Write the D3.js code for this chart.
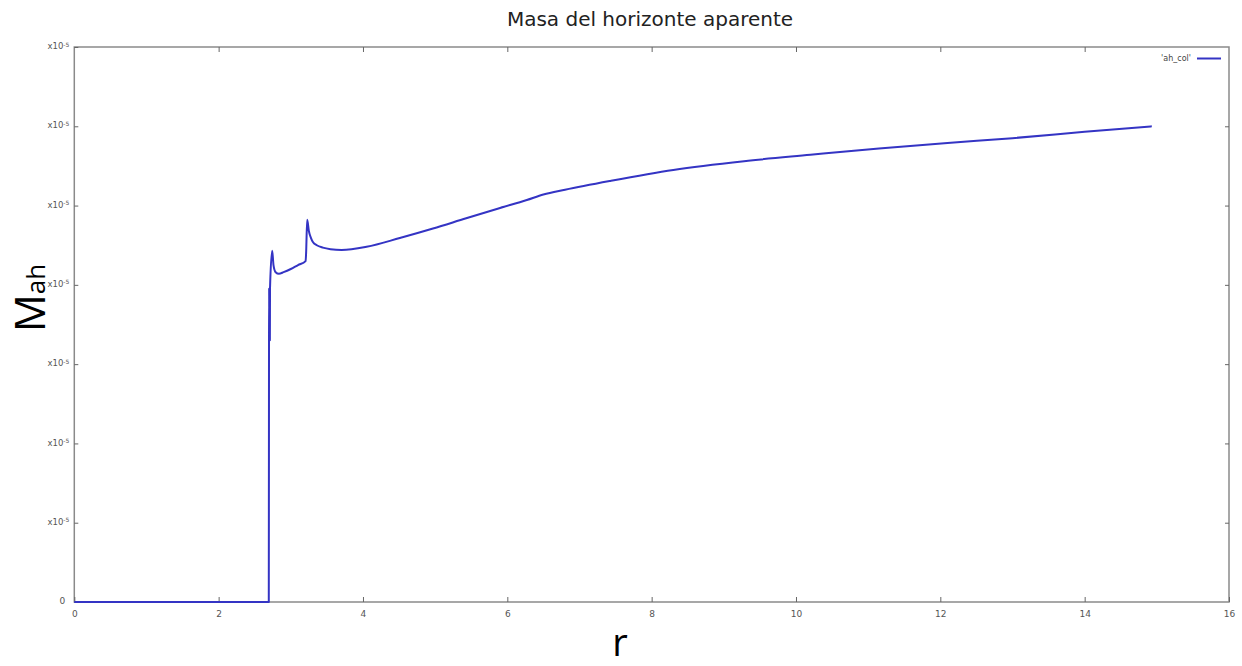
<!DOCTYPE html>
<html>
<head>
<meta charset="utf-8">
<script src="https://cdn.jsdelivr.net/npm/d3@7"></script>
<style>
html,body{margin:0;padding:0;background:#fff;}
svg{display:block;}
</style>
</head>
<body>
<svg id="chart" width="1242" height="666"></svg>
<script>
// ---- data (M_ah in units of 1e-5) ----
const rValues = [0, 2.695, 2.698, 2.700, 2.702, 2.704, 2.706, 2.708, 2.710, 2.712,
  2.742, 2.76, 2.79, 2.835, 2.90, 3.00, 3.10, 3.205, 3.212, 3.227,
  3.25, 3.28, 3.306, 3.36, 3.444, 3.55, 3.704, 4.05, 4.51, 4.97,
  5.43, 5.90, 6.27, 6.50, 6.80, 7.42, 8.30, 9.28, 10.2, 11.15, 12.1, 13.0, 14.0, 14.93];
const mValues = [0, 0, 3.30, 3.96, 3.30, 3.96, 3.30, 3.96, 3.30, 3.96,
  4.43, 4.25, 4.16, 4.14, 4.16, 4.20, 4.25, 4.30, 4.40, 4.82,
  4.68, 4.59, 4.54, 4.50, 4.47, 4.45, 4.44, 4.48, 4.59, 4.71,
  4.84, 4.97, 5.07, 5.14, 5.20, 5.31, 5.45, 5.56, 5.64, 5.72, 5.79, 5.85, 5.93, 6.00];
const xTicks = [0, 2, 4, 6, 8, 10, 12, 14, 16];
const yTicks = [0, 1, 2, 3, 4, 5, 6, 7];
const yTickBase = "x10";
const yTickExp = "-5";
const titleText = "Masa del horizonte aparente";
const seriesName = "'ah_col'";

(function () {
const svg = d3.select("#chart");
const pl = 74.3, pr = 1229, pt = 47, pb = 602;
const x = d3.scaleLinear().domain([0, 16]).range([pl, pr]);
const y = d3.scaleLinear().domain([0, 7]).range([pb, pt]);
const frameColor = "#8a8a8a";
const lineColor = "#3434c4";

// frame
svg.append("rect").attr("x", pl).attr("y", pt)
  .attr("width", pr - pl).attr("height", pb - pt)
  .attr("fill", "none").attr("stroke", frameColor).attr("stroke-width", 1.5);

// x axis (bottom, ticks inward)
const gx = svg.append("g").attr("transform", `translate(0,${pb})`)
  .call(d3.axisBottom(x).tickValues(xTicks).tickSize(-5).tickPadding(9).tickFormat(d3.format("d")));
gx.select(".domain").remove();
gx.selectAll(".tick line").attr("stroke", "#666").attr("stroke-width", 1);
gx.selectAll(".tick text").attr("fill", "#555").attr("font-size", "9px")
  .attr("font-family", "DejaVu Sans, sans-serif");
// mirror on top
const gxt = svg.append("g").attr("transform", `translate(0,${pt})`)
  .call(d3.axisTop(x).tickValues(xTicks.slice(1, -1)).tickSize(-5).tickFormat(""));
gxt.select(".domain").remove();
gxt.selectAll(".tick line").attr("stroke", "#666");

// y axis (left, ticks inward)
const gy = svg.append("g").attr("transform", `translate(${pl},0)`)
  .call(d3.axisLeft(y).tickValues(yTicks).tickSize(-4).tickPadding(7).tickFormat(""));
gy.select(".domain").remove();
gy.selectAll(".tick line").attr("stroke", "#666");
gy.selectAll(".tick").each(function (d) {
  const t = d3.select(this).append("text")
    .attr("x", -5).attr("dy", "0.2em").attr("text-anchor", "end")
    .attr("fill", "#555").attr("font-size", "8.5px")
    .attr("font-family", "DejaVu Sans, sans-serif");
  if (d === 0) { t.text("0").attr("x", -9).attr("font-size", "9px"); }
  else {
    t.append("tspan").text(yTickBase);
    t.append("tspan").text(yTickExp).attr("font-size", "6px").attr("dy", "-0.45em");
  }
});
// mirror on right
const gyr = svg.append("g").attr("transform", `translate(${pr},0)`)
  .call(d3.axisRight(y).tickValues(yTicks.slice(1, -1)).tickSize(-4).tickFormat(""));
gyr.select(".domain").remove();
gyr.selectAll(".tick line").attr("stroke", "#666");

// series line
const pts = rValues.map((r, i) => [r, mValues[i]]);
svg.append("path").datum(pts)
  .attr("fill", "none").attr("stroke", lineColor).attr("stroke-width", 2)
  .attr("stroke-linejoin", "round")
  .attr("d", d3.line().curve(d3.curveMonotoneX).x(d => x(d[0])).y(d => y(d[1])));

// legend
svg.append("text").attr("x", 1191).attr("y", 61).attr("text-anchor", "end")
  .attr("font-size", "8px").attr("fill", "#444")
  .attr("font-family", "DejaVu Sans, sans-serif").text(seriesName);
svg.append("line").attr("x1", 1197).attr("x2", 1221).attr("y1", 58.5).attr("y2", 58.5)
  .attr("stroke", lineColor).attr("stroke-width", 2);

// title
svg.append("text").attr("x", 650).attr("y", 26).attr("text-anchor", "middle")
  .attr("font-size", "20px").attr("fill", "#222")
  .attr("font-family", "DejaVu Sans, sans-serif").text(titleText);

// axis labels
svg.append("text").attr("x", 620).attr("y", 656).attr("text-anchor", "middle")
  .attr("font-size", "38px").attr("fill", "#000")
  .attr("font-family", "Open Sans, Noto Sans, sans-serif").text("r");

const yl = svg.append("text").attr("transform", "translate(45,298) rotate(-90)")
  .attr("text-anchor", "middle").attr("fill", "#000")
  .attr("font-family", "Open Sans, Noto Sans, sans-serif");
yl.append("tspan").attr("font-size", "42px").text("M");
yl.append("tspan").attr("font-size", "26px").text("ah");
})();
</script>
</body>
</html>
